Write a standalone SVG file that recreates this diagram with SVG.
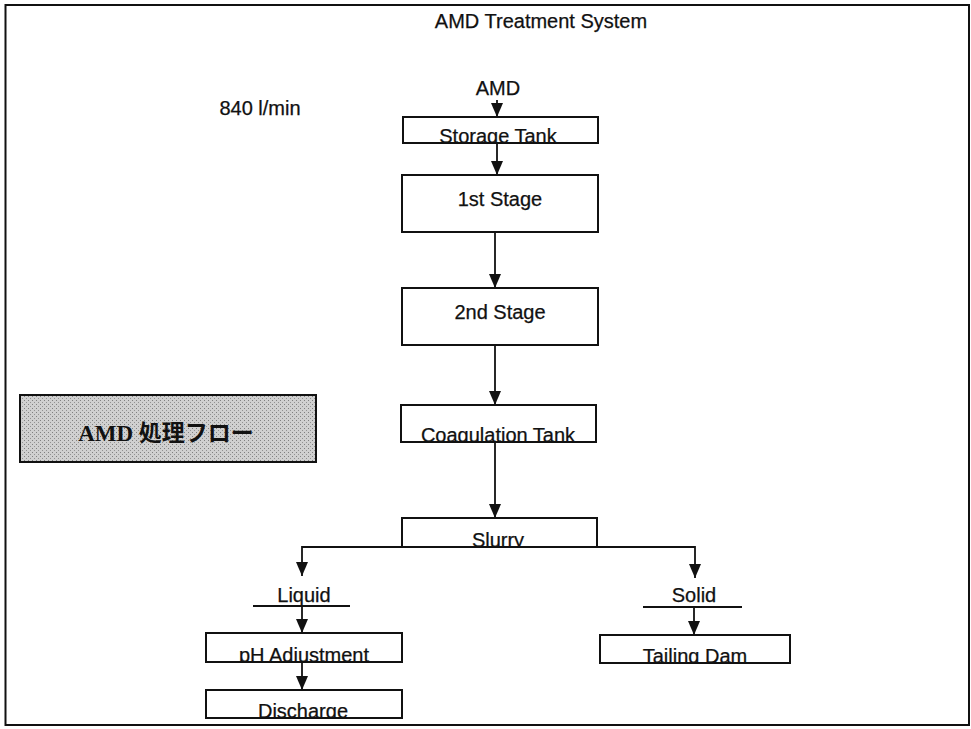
<svg xmlns="http://www.w3.org/2000/svg" width="971" height="729" viewBox="0 0 971 729">
<style>
.lbl{font-family:"Liberation Sans",Arial,sans-serif;font-size:20px;fill:#111;text-anchor:middle;stroke:#111;stroke-width:0.25}
.box{fill:#fff;stroke:#111;stroke-width:2}
.ln{fill:none;stroke:#111;stroke-width:1.8}
.arr{fill:none;stroke:#111;stroke-width:1.8;marker-end:url(#ah)}
.jp{font-family:"Liberation Serif","Noto Sans CJK JP",serif;font-weight:bold;font-size:23px;fill:#111;text-anchor:middle}
</style>
<defs>
<marker id="ah" viewBox="0 0 14 12" refX="14" refY="6" markerWidth="14" markerHeight="12" orient="auto" markerUnits="userSpaceOnUse">
<path d="M0,0 L14,6 L0,12 z" fill="#111"/>
</marker>
<pattern id="dots" width="4" height="4" patternUnits="userSpaceOnUse">
<rect width="4" height="4" fill="#d0d0d0"/>
<rect width="1" height="1" fill="#808080"/>
<rect x="2" y="2" width="1" height="1" fill="#929292"/>
</pattern>
<clipPath id="cStorage"><rect x="403" y="117" width="195" height="26"/></clipPath>
<clipPath id="cCoag"><rect x="401" y="405" width="195" height="37"/></clipPath>
<clipPath id="cSlurry"><rect x="402" y="518" width="195" height="29"/></clipPath>
<clipPath id="cPH"><rect x="206" y="633" width="196" height="29"/></clipPath>
<clipPath id="cDis"><rect x="206" y="690" width="196" height="28"/></clipPath>
<clipPath id="cTail"><rect x="600" y="635" width="190" height="28"/></clipPath>
</defs>
<rect x="5.5" y="5" width="963.5" height="720" fill="#fff" stroke="#111" stroke-width="2"/>
<text class="lbl" x="541" y="28">AMD Treatment System</text>
<text class="lbl" x="260" y="115">840 l/min</text>

<g id="connectors">
<line class="arr" x1="497" y1="100" x2="497" y2="117"/>
<line class="arr" x1="497" y1="143" x2="497" y2="175"/>
<line class="arr" x1="495" y1="232" x2="495" y2="288"/>
<line class="arr" x1="495" y1="345" x2="495" y2="405"/>
<line class="arr" x1="495" y1="442" x2="495" y2="518"/>
<polyline class="arr" points="402,547 302,547 302,576"/>
<polyline class="arr" points="597,547 695,547 695,578"/>
<line class="arr" x1="302" y1="606" x2="302" y2="633"/>
<line class="arr" x1="694" y1="607" x2="694" y2="635"/>
<line class="arr" x1="302" y1="662" x2="302" y2="690"/>
</g>

<g id="amd"><text class="lbl" x="498" y="95">AMD</text></g>

<g id="storage">
<rect class="box" x="403" y="117" width="195" height="26"/>
<text class="lbl" x="498" y="143" clip-path="url(#cStorage)">Storage Tank</text>
<line class="ln" x1="403" y1="143" x2="598" y2="143"/>
</g>

<g id="stage1">
<rect class="box" x="402" y="175" width="196" height="57"/>
<text class="lbl" x="500" y="206">1st Stage</text>
</g>

<g id="stage2">
<rect class="box" x="402" y="288" width="196" height="57"/>
<text class="lbl" x="500" y="319">2nd Stage</text>
</g>

<g id="coag">
<rect class="box" x="401" y="405" width="195" height="37"/>
<text class="lbl" x="498" y="442" clip-path="url(#cCoag)">Coagulation Tank</text>
<line class="ln" x1="401" y1="442" x2="596" y2="442"/>
</g>

<g id="slurry">
<rect class="box" x="402" y="518" width="195" height="29"/>
<text class="lbl" x="498" y="547" clip-path="url(#cSlurry)">Slurry</text>
<line class="ln" x1="402" y1="547" x2="597" y2="547"/>
</g>

<g id="liquid">
<text class="lbl" x="304" y="602">Liquid</text>
<line class="ln" x1="253" y1="606" x2="350" y2="606"/>
</g>

<g id="solid">
<text class="lbl" x="694" y="602">Solid</text>
<line class="ln" x1="643" y1="607" x2="742" y2="607"/>
</g>

<g id="ph">
<rect class="box" x="206" y="633" width="196" height="29"/>
<text class="lbl" x="304" y="662" clip-path="url(#cPH)">pH Adjustment</text>
<line class="ln" x1="206" y1="662" x2="402" y2="662"/>
</g>

<g id="discharge">
<rect class="box" x="206" y="690" width="196" height="28"/>
<text class="lbl" x="303" y="718" clip-path="url(#cDis)">Discharge</text>
<line class="ln" x1="206" y1="718" x2="402" y2="718"/>
</g>

<g id="tailing">
<rect class="box" x="600" y="635" width="190" height="28"/>
<text class="lbl" x="695" y="663" clip-path="url(#cTail)">Tailing Dam</text>
<line class="ln" x1="600" y1="663" x2="790" y2="663"/>
</g>

<g id="title-box">
<rect x="20" y="395" width="296" height="67" fill="url(#dots)" stroke="#111" stroke-width="2"/>
<text class="jp" x="166" y="441">AMD 処理フロー</text>
</g>
</svg>
